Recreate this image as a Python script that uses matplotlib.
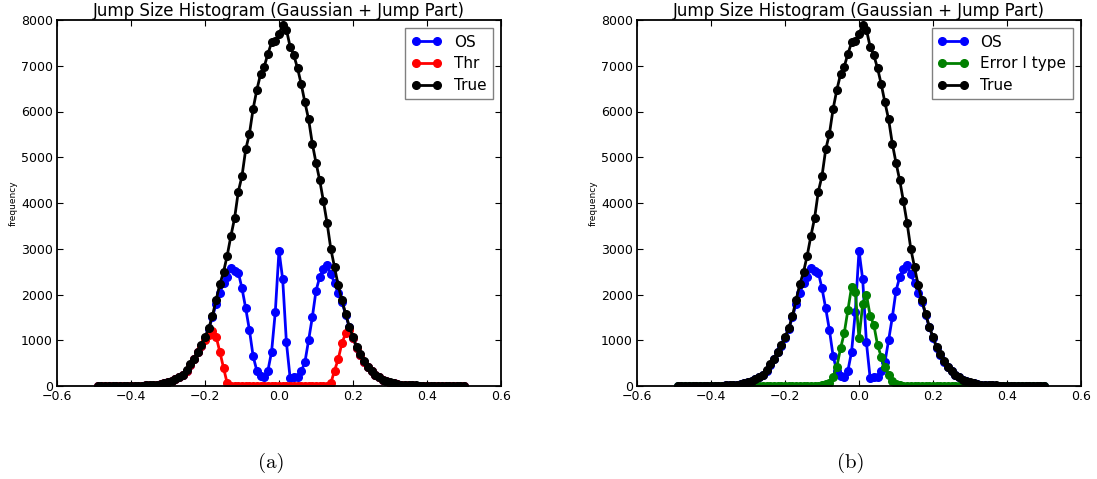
import matplotlib
matplotlib.use("Agg")
import matplotlib.pyplot as plt
import numpy as np

# bin centres of the jump-size histogram
x = np.round(np.arange(-49, 51) * 0.01, 2)

true_counts = [
    0, 0, 1, 1, 2, 2, 3, 3, 4, 5,
    6, 8, 10, 13, 17, 23, 32, 45, 62, 85,
    115, 150, 190, 250, 340, 470, 600, 750, 900, 1070,
    1260, 1530, 1880, 2220, 2490, 2850, 3280, 3670, 4250, 4590,
    5170, 5510, 6055, 6470, 6810, 6980, 7260, 7510, 7550, 7700,
    7890, 7790, 7420, 7230, 6950, 6600, 6200, 5830, 5300, 4880,
    4500, 4040, 3560, 3000, 2600, 2200, 1880, 1580, 1300, 1070,
    850, 700, 540, 420, 330, 250, 190, 140, 105, 78,
    58, 43, 32, 24, 18, 14, 11, 8, 6, 5,
    4, 3, 3, 2, 2, 1, 1, 1, 0, 0,
]

os_counts = [
    0, 0, 1, 1, 2, 2, 3, 3, 4, 5,
    6, 8, 10, 13, 17, 22, 31, 44, 60, 83,
    112, 146, 186, 245, 333, 462, 590, 738, 885, 1050,
    1240, 1500, 1800, 2030, 2250, 2380, 2570, 2520, 2480, 2135,
    1700, 1225, 655, 335, 220, 205, 335, 750, 1620, 2960,
    2330, 955, 180, 190, 205, 320, 520, 1000, 1500, 2080,
    2380, 2560, 2640, 2450, 2250, 2030, 1840, 1560, 1280, 1050,
    835, 688, 530, 412, 324, 245, 186, 137, 103, 76,
    57, 42, 31, 23, 17, 13, 10, 8, 6, 5,
    4, 3, 3, 2, 2, 1, 1, 1, 0, 0,
]

thr_counts = [
    0, 0, 1, 1, 2, 2, 3, 3, 4, 5,
    6, 8, 10, 13, 17, 22, 31, 44, 60, 83,
    112, 146, 186, 245, 333, 462, 590, 738, 870, 1000,
    1120, 1200, 1080, 750, 400, 60, 0, 0, 0, 0,
    0, 0, 0, 0, 0, 0, 0, 0, 0, 0,
    0, 0, 0, 0, 0, 0, 0, 0, 0, 0,
    0, 0, 0, 60, 335, 585, 935, 1150, 1225, 1050,
    835, 688, 530, 412, 324, 245, 186, 137, 103, 76,
    57, 42, 31, 23, 17, 13, 10, 8, 6, 5,
    4, 3, 3, 2, 2, 1, 1, 1, 0, 0,
]

err1_counts = [
    0, 0, 0, 0, 0, 0, 0, 0, 0, 0,
    0, 0, 0, 0, 0, 0, 0, 0, 0, 0,
    0, 1, 1, 1, 1, 2, 2, 2, 3, 3,
    3, 4, 4, 5, 5, 6, 7, 8, 10, 15,
    35, 75, 205, 420, 820, 1150, 1660, 2170, 2060, 1040,
    1790, 2000, 1540, 1340, 900, 640, 420, 240, 100, 40,
    15, 10, 8, 6, 5, 5, 4, 3, 3, 2,
    2, 2, 1, 1, 1, 1, 0, 0, 0, 0,
    0, 0, 0, 0, 0, 0, 0, 0, 0, 0,
    0, 0, 0, 0, 0, 0, 0, 0, 0, 0,
]

title = "Jump Size Histogram (Gaussian + Jump Part)"
xticks = [-0.6, -0.4, -0.2, 0.0, 0.2, 0.4, 0.6]
yticks = [0, 1000, 2000, 3000, 4000, 5000, 6000, 7000, 8000]

plt.rcParams.update({
    "xtick.direction": "in",
    "ytick.direction": "in",
    "xtick.top": True,
    "ytick.right": True,
    "xtick.major.size": 4,
    "ytick.major.size": 4,
    "xtick.major.pad": 3,
    "ytick.major.pad": 3,
    "axes.linewidth": 1.3,
})

W, H = 1097, 479
fig = plt.figure(figsize=(W / 100, H / 100), dpi=100)
fig.patch.set_facecolor("white")

ax_a = fig.add_axes([57 / W, 93 / H, 444 / W, 366 / H])
ax_b = fig.add_axes([637 / W, 93 / H, 444 / W, 366 / H])

line_kw = dict(marker="o", linewidth=2.0, markersize=5.5)


def setup(ax):
    ax.set_xlim(-0.6, 0.6)
    ax.set_ylim(0, 8000)
    ax.set_xticks(xticks)
    ax.set_yticks(yticks)
    ax.tick_params(labelsize=9)
    ax.set_title(title, fontsize=12, pad=2)
    ax.set_ylabel("frequency", fontsize=6.5, labelpad=2)
    ax.legend(loc="upper right", numpoints=2, fancybox=False,
              edgecolor="0.5", framealpha=1, fontsize=11,
              handlelength=2.0, borderaxespad=0.55, labelspacing=0.45)


# (a) OS vs threshold
ax_a.plot(x, os_counts, color="blue", label="OS", **line_kw)
ax_a.plot(x, thr_counts, color="red", label="Thr", **line_kw)
ax_a.plot(x, true_counts, color="black", label="True", **line_kw)
setup(ax_a)

# (b) OS vs type I errors
ax_b.plot(x, os_counts, color="blue", label="OS", **line_kw)
ax_b.plot(x, err1_counts, color="green", label="Error I type", **line_kw)
ax_b.plot(x, true_counts, color="black", label="True", **line_kw)
setup(ax_b)

fig.text(271 / W, 1 - 463 / H, "(a)", family="cmr10", fontsize=15,
         ha="center", va="center")
fig.text(851 / W, 1 - 463 / H, "(b)", family="cmr10", fontsize=15,
         ha="center", va="center")

fig.savefig("out.png", dpi=100, facecolor="white")
